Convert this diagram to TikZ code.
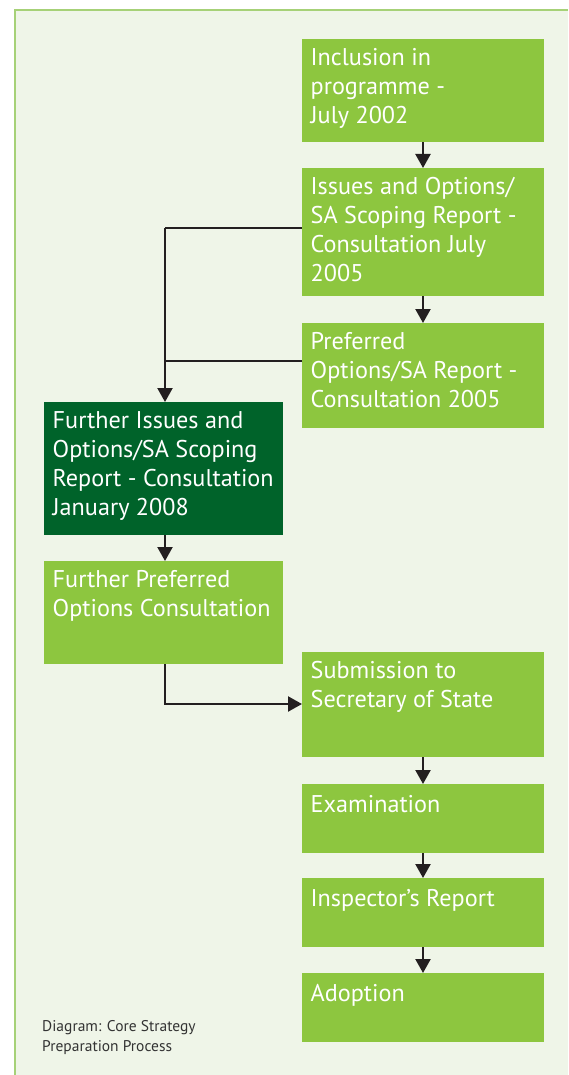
\documentclass[tikz,border=0pt]{standalone}
\usepackage{fontspec}
\setmainfont{PT Sans}
\usetikzlibrary{arrows.meta,calc}
\definecolor{boxgreen}{HTML}{8DC63F}
\definecolor{darkgreen}{HTML}{00632A}
\definecolor{panelbg}{HTML}{EFF5E8}
\definecolor{panelline}{HTML}{A6D177}
\definecolor{arrowcol}{HTML}{231F20}
\definecolor{captioncol}{HTML}{333333}
\tikzset{
  box/.style={draw=none, fill=boxgreen, anchor=north west, inner sep=0pt, minimum width=#1},
  box/.default=242pt,
  darkbox/.style={box=239pt, fill=darkgreen},
  txt/.style={anchor=north west, inner sep=0pt, text=white, align=left,
    font=\fontsize{24.2pt}{29pt}\selectfont,
    execute at begin node={\rule{0pt}{20pt}}},
  conn/.style={draw=arrowcol, line width=2.2pt},
  arr/.style={conn, -{Triangle[length=14pt,width=15pt]}},
  caption/.style={anchor=north west, inner sep=0pt, text=captioncol, align=left,
    font=\fontsize{15.5pt}{20pt}\selectfont,
    execute at begin node={\rule{0pt}{12pt}}},
}
\begin{document}
\begin{tikzpicture}[x=1pt,y=-1pt]
\useasboundingbox (0,0) rectangle (568,1075);
% panel
\fill[white] (0,0) rectangle (568,1075);
\fill[panelbg] (15,10) rectangle (568,1075);
\draw[panelline, line width=2pt] (15,1075) -- (15,10) -- (568,10);
% boxes
\node[box, minimum height=103pt] (b1) at (302,39) {};
\node[box, minimum height=128pt] (b2) at (302,168) {};
\node[box, minimum height=105pt] (b3) at (302,323) {};
\node[darkbox, minimum height=133pt] (b4) at (44,402) {};
\node[box=239pt, minimum height=103pt] (b5) at (44,561) {};
\node[box, minimum height=105pt] (b6) at (302,652) {};
\node[box, minimum height=69pt] (b7) at (302,784) {};
\node[box, minimum height=69pt] (b8) at (302,878) {};
\node[box, minimum height=69pt] (b9) at (302,973) {};
% texts
\node[txt] (t1) at ($(b1.north west)+(8.5,9)$) {Inclusion in\\programme -\\July 2002};
\node[txt] (t2) at ($(b2.north west)+(8.5,9)$) {Issues and Options/\\SA Scoping Report -\\Consultation July\\2005};
\node[txt] (t3) at ($(b3.north west)+(8.5,9)$) {Preferred\\Options/SA Report -\\Consultation 2005};
\node[txt] (t4) at ($(b4.north west)+(8.5,9)$) {Further Issues and\\Options/SA Scoping\\Report - Consultation\\January 2008};
\node[txt] (t5) at ($(b5.north west)+(8.5,9)$) {Further Preferred\\Options Consultation};
\node[txt] (t6) at ($(b6.north west)+(8.5,9)$) {Submission to\\Secretary of State};
\node[txt] (t7) at ($(b7.north west)+(8.5,8)$) {Examination};
\node[txt] (t8) at ($(b8.north west)+(8.5,8)$) {Inspector’s Report};
\node[txt] (t9) at ($(b9.north west)+(8.5,8)$) {Adoption};
\node[caption] (cap) at (42,1020) {Diagram: Core Strategy\\Preparation Process};
% connectors
\coordinate (j1) at (165,228);
\coordinate (j2) at (165,361);
\coordinate (j3) at (165,704);
\draw[arr] (b1.south -| 423,0) -- (b2.north -| 423,0);
\draw[arr] (b2.south -| 423,0) -- (b3.north -| 423,0);
\draw[conn] (b2.west |- j1) -- (j1);
\draw[conn] (b3.west |- j2) -- (j2);
\draw[arr] (j1) -- (b4.north -| j1);
\draw[arr] (b4.south -| j1) -- (b5.north -| j1);
\draw[arr] (b5.south -| j3) -- (j3) -- (b6.west |- j3);
\draw[arr] (b6.south -| 423,0) -- (b7.north -| 423,0);
\draw[arr] (b7.south -| 423,0) -- (b8.north -| 423,0);
\draw[arr] (b8.south -| 423,0) -- (b9.north -| 423,0);
\end{tikzpicture}
\end{document}
